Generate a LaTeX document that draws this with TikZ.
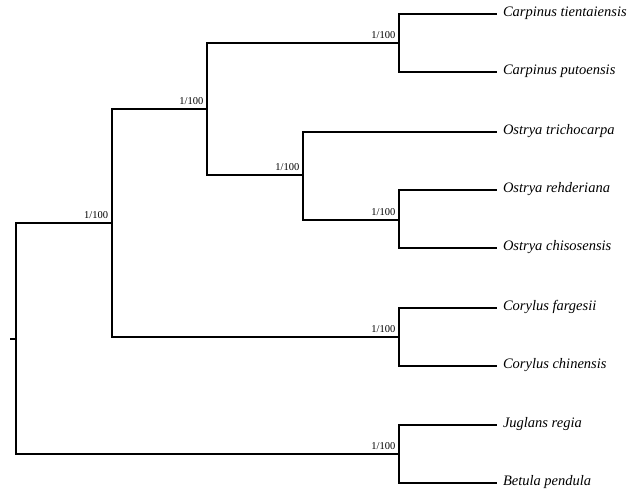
\documentclass[tikz,border=0pt]{standalone}
\usepackage{fontspec}
\setmainfont{Liberation Serif}
\begin{document}
\begin{tikzpicture}[x=1pt,y=-1pt,
  branch/.style={line width=2.3pt,line join=miter},
  taxon/.style={anchor=west,inner sep=0pt,outer xsep=6pt,
    font=\fontsize{14.5}{16}\selectfont\itshape,text height=1.5ex,text depth=.3ex},
  support/.style={anchor=base east,inner sep=0pt,xshift=-3.5pt,yshift=4.5pt,
    font=\fontsize{10.5}{12}\selectfont}]
\fill[white] (0,0) rectangle (640,492);
\useasboundingbox (0,0) rectangle (640,492);

% internal nodes (junction points)
\coordinate (stub) at (10,339);
\coordinate (R) at (15.7,339);
\coordinate (A) at (111.7,223);
\coordinate (B) at (207,109);
\coordinate (C) at (399,43);
\coordinate (D) at (303,175);
\coordinate (E) at (399,220);
\coordinate (F) at (399,337);
\coordinate (G) at (399,454);

% tips
\node[taxon] (t1) at (497,14)  {Carpinus tientaiensis};
\node[taxon] (t2) at (497,72)  {Carpinus putoensis};
\node[taxon] (t3) at (497,132) {Ostrya trichocarpa};
\node[taxon] (t4) at (497,190) {Ostrya rehderiana};
\node[taxon] (t5) at (497,248) {Ostrya chisosensis};
\node[taxon] (t6) at (497,308) {Corylus fargesii};
\node[taxon] (t7) at (497,366) {Corylus chinensis};
\node[taxon] (t8) at (497,425) {Juglans regia};
\node[taxon] (t9) at (497,483) {Betula pendula};

% branches
\draw[branch] (stub) -- (R);
\draw[branch] (R) |- (A);
\draw[branch] (R) |- (G);
\draw[branch] (A) |- (B);
\draw[branch] (A) |- (F);
\draw[branch] (B) |- (C);
\draw[branch] (B) |- (D);
\draw[branch] (D) |- (t3.west);
\draw[branch] (D) |- (E);
\draw[branch] (C) |- (t1.west);
\draw[branch] (C) |- (t2.west);
\draw[branch] (E) |- (t4.west);
\draw[branch] (E) |- (t5.west);
\draw[branch] (F) |- (t6.west);
\draw[branch] (F) |- (t7.west);
\draw[branch] (G) |- (t8.west);
\draw[branch] (G) |- (t9.west);

% support values
\node[support] (sA) at (A) {1/100};
\node[support] (sB) at (B) {1/100};
\node[support] (sC) at (C) {1/100};
\node[support] (sD) at (D) {1/100};
\node[support] (sE) at (E) {1/100};
\node[support] (sF) at (F) {1/100};
\node[support] (sG) at (G) {1/100};
\end{tikzpicture}
\end{document}
